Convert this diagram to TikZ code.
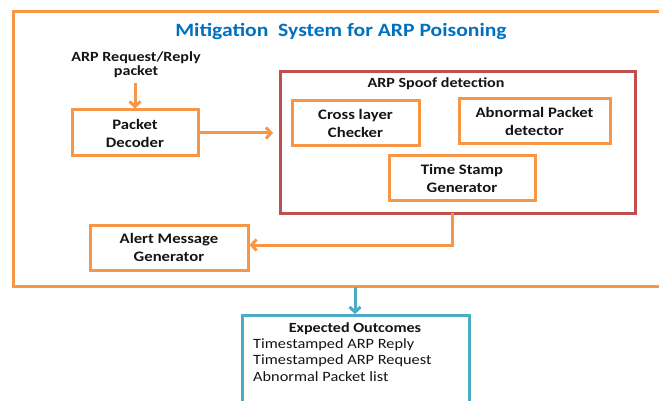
\documentclass[tikz,border=0pt]{standalone}
\usepackage{fontspec}
\setmainfont{Carlito}[FakeStretch=1.15]
\usetikzlibrary{arrows.meta}
\definecolor{org}{RGB}{247,150,70}
\definecolor{redb}{RGB}{192,80,77}
\definecolor{aqua}{RGB}{75,172,198}
\definecolor{ttl}{RGB}{0,112,192}
\definecolor{txt}{RGB}{20,20,20}
\tikzset{
  obox/.style={draw=org, line width=3pt, minimum width=#1, inner sep=0pt, align=center,
    font=\fontsize{14.5}{18}\selectfont\bfseries, text=txt},
  frame/.style={draw=#1, line width=3pt, inner sep=0pt},
  oarrow/.style={draw=org, line width=3pt, -{Straight Barb[length=5pt,width=11pt,line width=3pt]}},
  barrow/.style={draw=aqua, line width=3pt, -{Straight Barb[length=5pt,width=11pt,line width=3pt]}},
}
\begin{document}
\begin{tikzpicture}[x=1pt,y=-1pt]
\useasboundingbox (0,0) rectangle (659,401);
\clip (0,0) rectangle (659,401);
% outer frame
\node[frame=org, minimum width=660pt, minimum height=274pt] (outer) at (343,149) {};
\node[font=\fontsize{18.8}{20}\selectfont\bfseries, text=ttl] (title) at (341,31) {Mitigation\ \ System for ARP Poisoning};
% input
\node[align=center, font=\fontsize{14}{14}\selectfont\bfseries, text=txt] (inp) at (136,65) {ARP Request/Reply\\packet};
\node[obox=126pt, minimum height=46pt] (dec) at (135,133) {Packet\\Decoder};
% spoof detection
\node[frame=redb, minimum width=355pt, minimum height=141pt] (spoof) at (457.5,142.5) {};
\node[font=\fontsize{14}{16}\selectfont\bfseries, text=txt] (spooflbl) at (436,84) {ARP Spoof detection};
\node[obox=127pt, minimum height=45pt] (cross) at (355.5,123.5) {Cross layer\\Checker};
\node[obox=151pt, minimum height=45pt] (abn) at (534.5,121.5) {Abnormal Packet\\detector};
\node[obox=146pt, minimum height=45pt] (time) at (462,178.5) {Time Stamp\\Generator};
% alert
\node[obox=158pt, minimum height=45pt] (alert) at (169,247.5) {Alert Message\\Generator};
% outcomes
\node[frame=aqua, minimum width=227pt, minimum height=110pt] (out) at (355.5,370) {};
\node[font=\fontsize{14}{16}\selectfont\bfseries, text=txt] (outt) at (355,329) {Expected Outcomes};
\node[anchor=north west, align=left, inner sep=0pt, font=\fontsize{14.2}{16.5}\selectfont, text=txt] (outl) at (253,338) {Timestamped ARP Reply\\Timestamped ARP Request\\Abnormal Packet list};
% connectors
\coordinate (a1) at (135,83);
\coordinate (a2) at (273,133);
\draw[oarrow] (a1) -- (dec.north);
\draw[oarrow] (dec.east) -- (a2);
\coordinate (b1) at (452,213);
\coordinate (b2) at (452,245);
\draw[oarrow] (b1) -- (b2) -- (alert.east |- b2);
\coordinate (c1) at (355,287);
\coordinate (c2) at (355,314);
\draw[barrow] (c1) -- (c2);
\end{tikzpicture}
\end{document}
